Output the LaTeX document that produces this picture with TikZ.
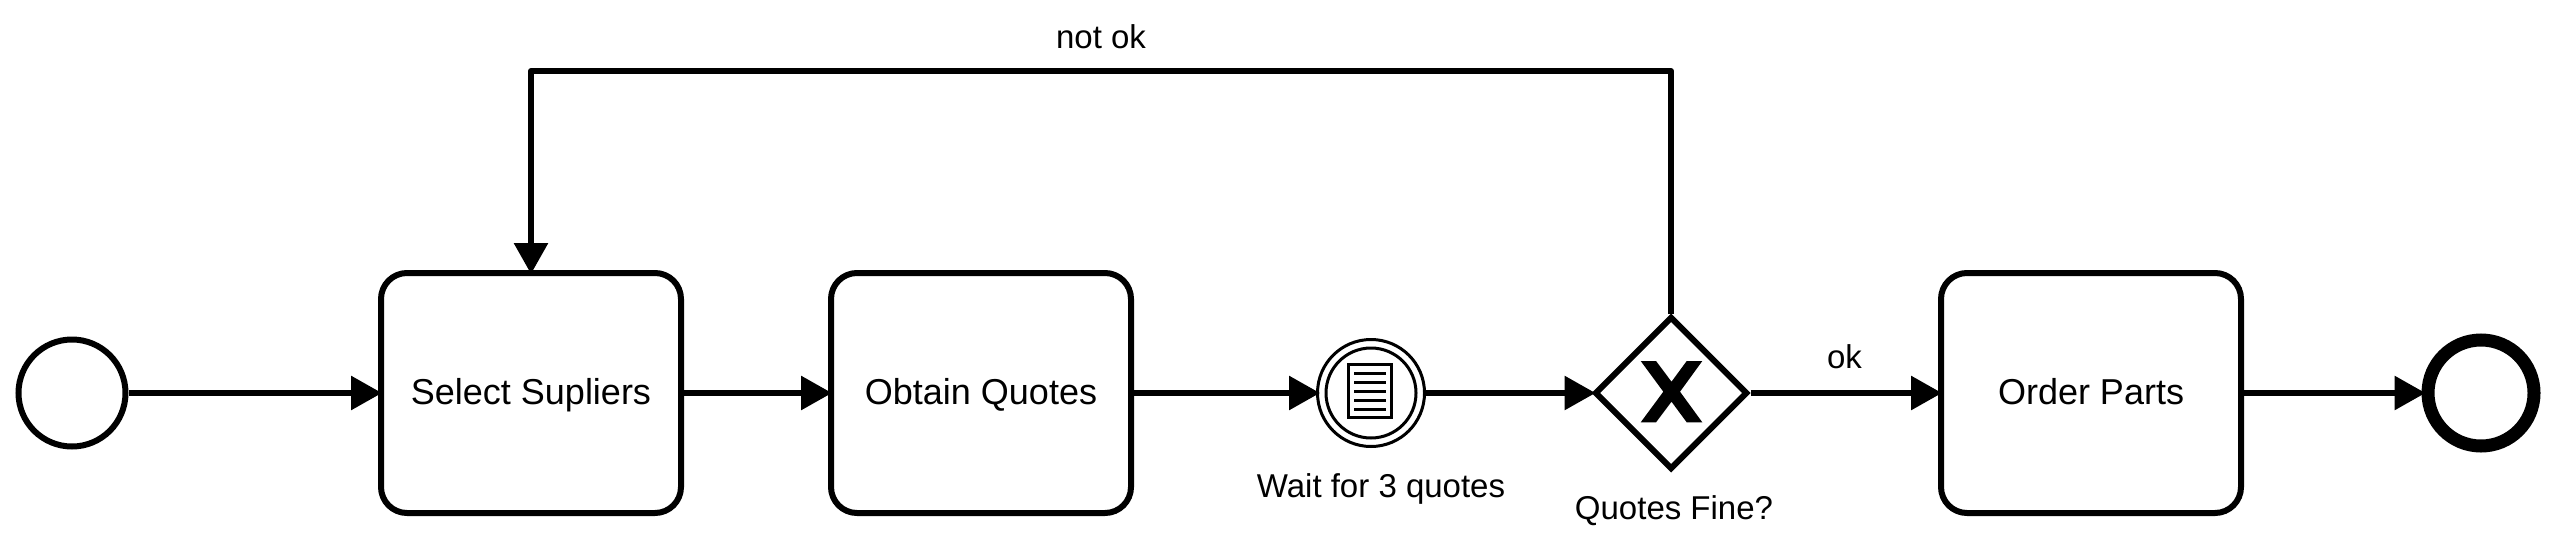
\documentclass[tikz,border=0pt]{standalone}
\usepackage{fontspec}
\setmainfont{Liberation Sans}
\usetikzlibrary{arrows.meta,shapes.geometric}
\tikzset{
  x=1pt,y=-1pt,
  lbl/.style={font=\fontsize{33}{38}\selectfont,inner sep=0pt,anchor=base},
  task/.style={draw=black,fill=white,line width=6pt,rounded corners=26pt,minimum width=300pt,minimum height=240pt,inner sep=0pt,
    font=\fontsize{36}{40}\selectfont,text height=26pt,text depth=3.5pt},
  startev/.style={circle,draw=black,fill=white,line width=6pt,minimum size=107pt,inner sep=0pt},
  endev/.style={circle,draw=black,fill=white,line width=13pt,minimum size=106pt,inner sep=0pt},
  ring/.style={circle,draw=black,fill=white,line width=3pt,inner sep=0pt},
  gate/.style={diamond,aspect=1,draw=black,fill=white,line width=6pt,minimum size=153pt,inner sep=0pt},
  flow/.style={draw=black,line width=6pt,line join=round,shorten >=-4pt,-{Triangle[length=31pt,width=33pt]}},
  icon/.style={draw=black,line width=3pt}
}
\begin{document}
\begin{tikzpicture}
\useasboundingbox (0,0) rectangle (2553,549);
\node[startev] (start) at (72,393) {};
\node[task] (sel) at (531,393) {Select Supliers};
\node[task] (obt) at (981,393) {Obtain Quotes};
\node[ring,minimum size=107pt] (wait) at (1371,393) {};
\node[ring,minimum size=90pt] (waitin) at (1371,393) {};
\node[gate] (gw) at (1671,393) {};
\node[task] (ord) at (2091,393) {Order Parts};
\node[endev] (stop) at (2481,393) {};
% message icon
\draw[icon,fill=white] (1348.2,364.8) rectangle (1391.8,417.8);
\foreach \yy in {373.3,382.2,391,400,409}{
  \draw[icon] (1354.3,\yy) -- (1386,\yy);
}
% exclusive X
\fill[black] (1640.7,361) -- (1656,361) -- (1671.5,381.7) -- (1686.7,361) -- (1702.3,361)
  -- (1680,391.7) -- (1702.3,422.3) -- (1686.7,422.3) -- (1671.5,401.7) -- (1656,422.3) -- (1640.7,422.3) -- (1663.3,391.7) -- cycle;
% labels
\node[lbl] (lwait) at (1381,497) {Wait for 3 quotes};
\node[lbl] (lgw) at (1674,519) {Quotes Fine?};
\node[lbl] (lnot) at (1101,48) {not ok};
\node[lbl] (lok) at (1844.5,368.5) {ok};
% flows
\coordinate (top) at (1671,71);
\draw[flow] (start) -- (sel);
\draw[flow] (sel) -- (obt);
\draw[flow] (obt) -- (wait);
\draw[flow] (wait) -- (gw);
\draw[flow] (gw) -- (ord);
\draw[flow] (ord) -- (stop);
\draw[flow] (gw.north) -- (top) -- (sel.north |- top) -- (sel.north);
\end{tikzpicture}
\end{document}
